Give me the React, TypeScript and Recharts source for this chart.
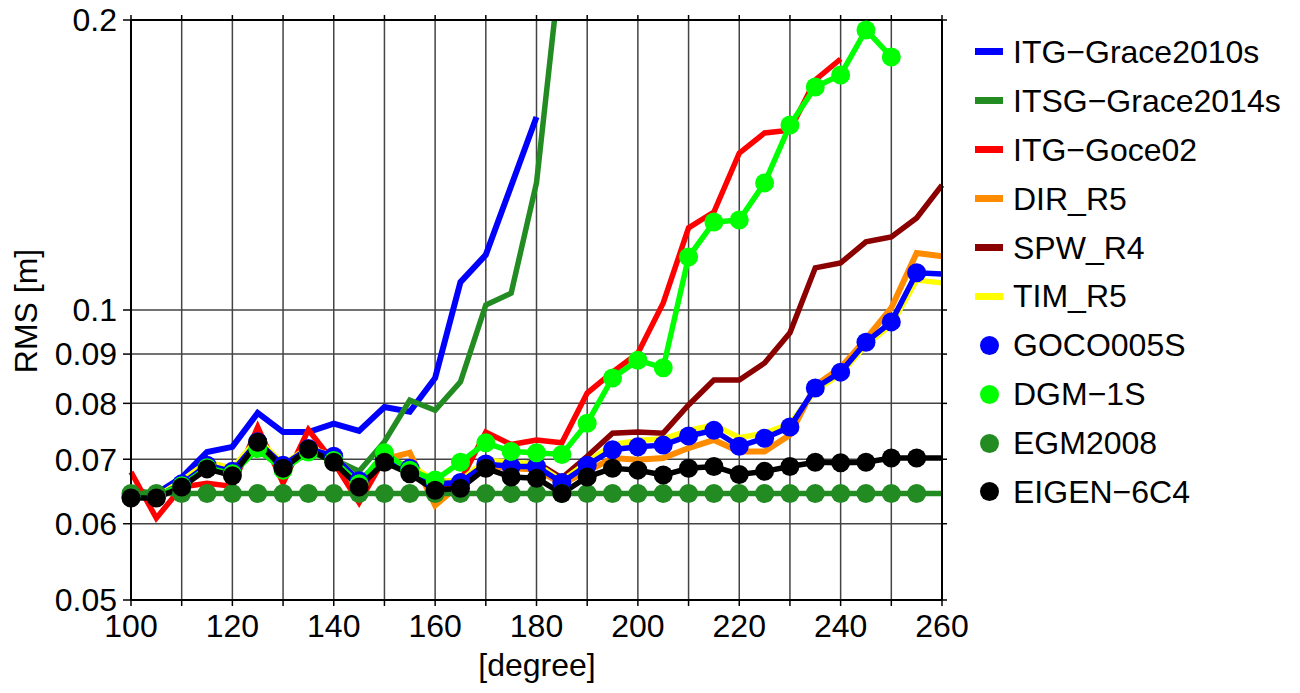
import React from 'react';
import { LineChart, Line, XAxis, YAxis, CartesianGrid } from 'recharts';

const FONT = '"Liberation Sans", Arial, Helvetica, sans-serif';

// spherical harmonic degree
const degrees = [100, 105, 110, 115, 120, 125, 130, 135, 140, 145, 150, 155, 160, 165, 170, 175, 180, 185, 190, 195, 200, 205, 210, 215, 220, 225, 230, 235, 240, 245, 250, 255, 260];

// RMS [m] per model
const itgGrace2010s = [0.0645, 0.0645, 0.0670, 0.0712, 0.0721, 0.0782, 0.0747, 0.0747, 0.0762, 0.0749, 0.0793, 0.0784, 0.0850, 0.1069, 0.1141, 0.1345, 0.1586, null, null, null, null, null, null, null, null, null, null, null, null, null, null, null, null];
const itsgGrace2014s = [0.0650, 0.0645, 0.0655, 0.0690, 0.0685, 0.0715, 0.0685, 0.0712, 0.0700, 0.0680, 0.0730, 0.0806, 0.0787, 0.0842, 0.1012, 0.1041, 0.1355, 0.2350, null, null, null, null, null, null, null, null, null, null, null, null, null, null, null];
const itgGoce02 = [0.0679, 0.0608, 0.0655, 0.0661, 0.0656, 0.0756, 0.0661, 0.0751, 0.0695, 0.0631, 0.0702, 0.0680, 0.0650, 0.0665, 0.0747, 0.0725, 0.0733, 0.0728, 0.0820, 0.0862, 0.0902, 0.1017, 0.1217, 0.1264, 0.1455, 0.1527, 0.1537, 0.1733, 0.1822, null, null, null, null];
const dirR5 = [0.0645, 0.0640, 0.0660, 0.0685, 0.0680, 0.0730, 0.0688, 0.0718, 0.0700, 0.0662, 0.0700, 0.0711, 0.0627, 0.0660, 0.0690, 0.0685, 0.0683, 0.0660, 0.0680, 0.0702, 0.0699, 0.0702, 0.0719, 0.0733, 0.0713, 0.0713, 0.0742, 0.0835, 0.0871, 0.0933, 0.1005, 0.1146, 0.1137];
const spwR4 = [0.0642, 0.0640, 0.0662, 0.0690, 0.0683, 0.0735, 0.0690, 0.0720, 0.0703, 0.0662, 0.0700, 0.0688, 0.0658, 0.0662, 0.0695, 0.0690, 0.0695, 0.0669, 0.0705, 0.0745, 0.0747, 0.0745, 0.0797, 0.0846, 0.0846, 0.0881, 0.0947, 0.1106, 0.1119, 0.1177, 0.1191, 0.1246, 0.1348];
const timR5 = [0.0642, 0.0640, 0.0665, 0.0695, 0.0685, 0.0735, 0.0692, 0.0720, 0.0705, 0.0665, 0.0700, 0.0690, 0.0665, 0.0665, 0.0698, 0.0695, 0.0692, 0.0665, 0.0695, 0.0725, 0.0732, 0.0735, 0.0750, 0.0760, 0.0737, 0.0745, 0.0762, 0.0825, 0.0858, 0.0920, 0.0965, 0.1074, 0.1067];
const goco005s = [0.0640, 0.0640, 0.0660, 0.0690, 0.0680, 0.0730, 0.0690, 0.0718, 0.0705, 0.0665, 0.0700, 0.0685, 0.0660, 0.0662, 0.0692, 0.0688, 0.0688, 0.0662, 0.0690, 0.0716, 0.0721, 0.0724, 0.0740, 0.0750, 0.0722, 0.0736, 0.0756, 0.0830, 0.0862, 0.0926, 0.0972, 0.1093, 0.1090];
const dgm1s = [0.0640, 0.0642, 0.0657, 0.0686, 0.0676, 0.0718, 0.0682, 0.0712, 0.0698, 0.0660, 0.0711, 0.0682, 0.0666, 0.0695, 0.0728, 0.0713, 0.0711, 0.0708, 0.0763, 0.0850, 0.0887, 0.0871, 0.1135, 0.1234, 0.1240, 0.1355, 0.1556, 0.1704, 0.1754, 0.1953, 0.1831, null, null];
const egm2008 = [0.0645, 0.0645, 0.0645, 0.0645, 0.0645, 0.0645, 0.0645, 0.0645, 0.0645, 0.0645, 0.0645, 0.0645, 0.0645, 0.0645, 0.0645, 0.0645, 0.0645, 0.0645, 0.0645, 0.0645, 0.0645, 0.0645, 0.0645, 0.0645, 0.0645, 0.0645, 0.0645, 0.0645, 0.0645, 0.0645, 0.0645, 0.0645, 0.0645];
const eigen6c4 = [0.0638, 0.0638, 0.0655, 0.0684, 0.0673, 0.0729, 0.0685, 0.0717, 0.0695, 0.0655, 0.0695, 0.0676, 0.0650, 0.0653, 0.0685, 0.0671, 0.0669, 0.0645, 0.0671, 0.0685, 0.0682, 0.0674, 0.0685, 0.0688, 0.0675, 0.0680, 0.0688, 0.0695, 0.0694, 0.0695, 0.0702, 0.0702, 0.0702];

const seriesKeys = ['grace2010s', 'grace2014s', 'goce02', 'dir', 'spw', 'tim', 'goco', 'dgm', 'egm', 'eigen'];
const seriesNames = ['ITG−Grace2010s', 'ITSG−Grace2014s', 'ITG−Goce02', 'DIR_R5', 'SPW_R4', 'TIM_R5', 'GOCO005S', 'DGM−1S', 'EGM2008', 'EIGEN−6C4'];
const seriesColors = ['#0000ff', '#228b22', '#ff0000', '#ff8c00', '#8b0000', '#ffff00', '#0000ff', '#00ff00', '#228b22', '#000000'];
const seriesDots = [false, false, false, false, false, false, true, true, true, true];
const seriesWidths = [6, 5.5, 5.5, 6, 5.5, 5.5, 5.5, 5.5, 5.5, 5.5];
const seriesValues = [itgGrace2010s, itsgGrace2014s, itgGoce02, dirR5, spwR4, timR5, goco005s, dgm1s, egm2008, eigen6c4];

const xTicks = [100, 110, 120, 130, 140, 150, 160, 170, 180, 190, 200, 210, 220, 230, 240, 250, 260];
const yTicks = [0.05, 0.06, 0.07, 0.08, 0.09, 0.1, 0.2];

const rows = degrees.map((deg, i) => {
  const row: any = { deg };
  seriesKeys.forEach((k, s) => { row[k] = seriesValues[s][i]; });
  return row;
});

const makeDot = (key: string, color: string) => (props: any) => {
  const { cx, cy, payload, index } = props;
  if (payload == null || payload[key] == null || payload.deg === 260 || cx == null || cy == null) {
    return <g key={`${key}-${index}`} />;
  }
  return <circle key={`${key}-${index}`} cx={cx} cy={cy} r={9.5} fill={color} />;
};

const axisStroke = { stroke: '#000', strokeWidth: 2 };
const tickStroke = { stroke: '#000', strokeWidth: 1.5 };
const tickFont = { fontSize: 32, fill: '#000', fontFamily: FONT };

export default function App() {
  return (
    <div style={{ position: 'absolute', left: 0, top: 0, width: 1300, height: 693, background: '#fff' }}>
      <LineChart
        width={1300}
        height={693}
        data={rows}
        margin={{ top: 10, right: 348, bottom: 33, left: 0 }}
      >
        <CartesianGrid stroke="#444" strokeWidth={1.5} />
        <XAxis
          dataKey="deg"
          type="number"
          domain={[100, 260]}
          ticks={xTicks}
          interval={0}
          height={60}
          axisLine={axisStroke}
          tickLine={tickStroke}
          tickSize={6}
          tickMargin={8}
          tick={tickFont}
          tickFormatter={(v: number) => (v % 20 === 0 ? String(v) : '')}
          label={() => (
            <text x={537} y={676} textAnchor="middle" fontSize={32} fontFamily={FONT} fill="#000">
              [degree]
            </text>
          )}
        />
        <XAxis
          xAxisId="top"
          orientation="top"
          dataKey="deg"
          type="number"
          domain={[100, 260]}
          ticks={xTicks}
          interval={0}
          height={10}
          axisLine={axisStroke}
          tickLine={tickStroke}
          tickSize={5}
          tickFormatter={() => ''}
        />
        <YAxis
          scale="log"
          type="number"
          domain={[0.05, 0.2]}
          ticks={yTicks}
          interval={0}
          allowDataOverflow
          width={131}
          axisLine={axisStroke}
          tickLine={tickStroke}
          tickSize={8}
          tickMargin={6}
          tick={tickFont}
          tickFormatter={(v: number) => String(v)}
          label={() => (
            <text
              x={26}
              y={311}
              transform="rotate(-90, 26, 311)"
              textAnchor="middle"
              dominantBaseline="central"
              fontSize={32}
              fontFamily={FONT}
              fill="#000"
            >
              RMS [m]
            </text>
          )}
        />
        <YAxis
          yAxisId="right"
          orientation="right"
          scale="log"
          type="number"
          domain={[0.05, 0.2]}
          ticks={yTicks}
          interval={0}
          allowDataOverflow
          width={10}
          axisLine={axisStroke}
          tickLine={tickStroke}
          tickSize={5}
          tickFormatter={() => ''}
        />
        {seriesKeys.map((k, s) => (
          <Line
            key={k}
            dataKey={k}
            name={seriesNames[s]}
            type="linear"
            stroke={seriesColors[s]}
            strokeWidth={seriesWidths[s]}
            strokeLinejoin="miter"
            strokeLinecap="butt"
            dot={seriesDots[s] ? makeDot(k, seriesColors[s]) : false}
            activeDot={false}
            isAnimationActive={false}
          />
        ))}
      </LineChart>

      <div style={{ position: 'absolute', left: 975, top: 27.5, fontFamily: FONT, fontSize: 32, color: '#000' }}>
        {seriesNames.map((name, i) => (
          <div key={name} style={{ display: 'flex', alignItems: 'center', height: 48.9, whiteSpace: 'nowrap' }}>
            <div style={{ width: 38, display: 'flex', alignItems: 'center' }}>
              {seriesDots[i] ? (
                <div style={{ marginLeft: 4.5, width: 19, height: 19, borderRadius: '50%', background: seriesColors[i] }} />
              ) : (
                <div style={{ width: 28, height: 7, background: seriesColors[i] }} />
              )}
            </div>
            <span style={{ lineHeight: 1 }}>{name}</span>
          </div>
        ))}
      </div>
    </div>
  );
}
